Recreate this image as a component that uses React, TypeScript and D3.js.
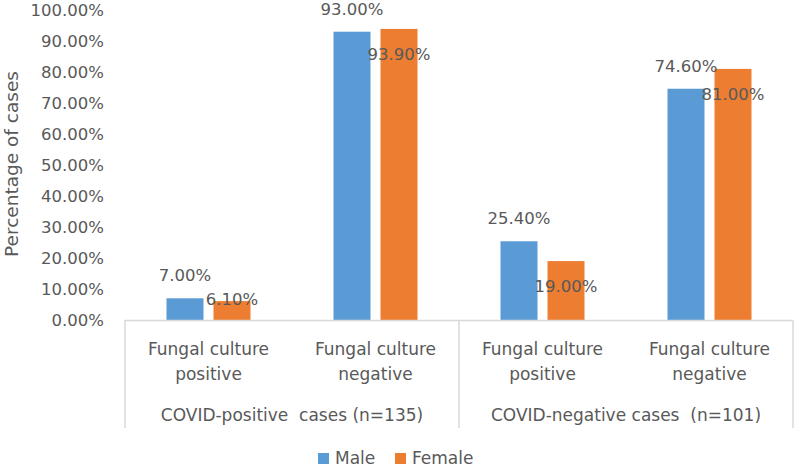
import React from "react";
import * as d3 from "d3";

const groups = ["COVID-positive  cases (n=135)", "COVID-negative cases  (n=101)"];
const categories = ["Fungal culture|positive", "Fungal culture|negative", "Fungal culture|positive", "Fungal culture|negative"];
const categoryGroup = [0, 0, 1, 1];
const seriesNames = ["Male", "Female"];
const maleValues = [7.0, 93.0, 25.4, 74.6];
const femaleValues = [6.1, 93.9, 19.0, 81.0];
const yTicks = [0, 10, 20, 30, 40, 50, 60, 70, 80, 90, 100];
const colors = ["#5B9BD5", "#ED7D31"];

const W = 795;
const H = 469;
const FONT = "'DejaVu Sans', sans-serif";
const TXT = "#595959";
const AXIS = "#D9D9D9";

export default function App() {
  const left = 125;
  const right = 793;
  const y0 = 320;
  const y = d3.scaleLinear().domain([0, 100]).range([y0, 10]);
  const catIdx = categories.map((_, i) => String(i));
  const x0 = d3.scaleBand().domain(catIdx).range([left, right]).padding(0);
  const x1 = d3.scaleBand().domain(seriesNames).range([0, 84]).paddingInner(10 / 47).paddingOuter(0);
  const off = (x0.bandwidth() - 84) / 2;
  const series = [maleValues, femaleValues];
  const fmt = (v: number) => v.toFixed(2) + "%";

  const groupBounds = groups.map((_, g) => {
    const idx = categoryGroup.map((gg, i) => (gg === g ? i : -1)).filter((i) => i >= 0);
    const a = x0(String(idx[0]))!;
    const b = x0(String(idx[idx.length - 1]))! + x0.bandwidth();
    return [a, b];
  });
  const separators = [left, ...groupBounds.map((b) => b[1])];

  return (
    <svg width={W} height={H} style={{ position: "absolute", left: 0, top: 0, background: "#fff" }}>
      <rect x={0} y={0} width={W} height={H} fill="#fff" />
      {yTicks.map((t) => (
        <text key={t} x={104} y={y(t)} dy="0.36em" textAnchor="end" fontFamily={FONT} fontSize={16.5} fill={TXT}>
          {t.toFixed(2) + "%"}
        </text>
      ))}
      <text
        transform={`translate(18,${164}) rotate(-90)`}
        textAnchor="middle"
        fontFamily={FONT}
        fontSize={18.5}
        fill={TXT}
      >
        Percentage of cases
      </text>
      {catIdx.map((c, i) =>
        seriesNames.map((s, si) => {
          const v = series[si][i];
          const bx = x0(c)! + off + x1(s)!;
          const top = y(v);
          return (
            <rect key={c + s} x={bx} y={top} width={x1.bandwidth()} height={y0 - top} fill={colors[si]} />
          );
        })
      )}
      {catIdx.map((c, i) =>
        seriesNames.map((s, si) => {
          const v = series[si][i];
          const cx = x0(c)! + off + x1(s)! + x1.bandwidth() / 2;
          const top = y(v);
          const by = si === 0 ? top - 17 : Math.min(top + 31, y0 - 15);
          return (
            <text key={"l" + c + s} x={cx} y={by} textAnchor="middle" fontFamily={FONT} fontSize={16.5} fill={TXT}>
              {fmt(v)}
            </text>
          );
        })
      )}
      <line x1={left} x2={right} y1={y0 + 0.5} y2={y0 + 0.5} stroke={AXIS} strokeWidth={1.5} />
      {separators.map((sx, i) => (
        <line key={"s" + i} x1={sx} x2={sx} y1={y0} y2={428} stroke={AXIS} strokeWidth={1.5} />
      ))}
      {catIdx.map((c, i) => {
        const lines = categories[i].split("|");
        const cx = x0(c)! + x0.bandwidth() / 2;
        return lines.map((ln, li) => (
          <text key={"c" + i + li} x={cx} y={355 + li * 25} textAnchor="middle" fontFamily={FONT} fontSize={17} fill={TXT}>
            {ln}
          </text>
        ));
      })}
      {groups.map((g, gi) => (
        <text
          key={"g" + gi}
          x={(groupBounds[gi][0] + groupBounds[gi][1]) / 2}
          y={421}
          textAnchor="middle"
          fontFamily={FONT}
          fontSize={17}
          fill={TXT}
          style={{ whiteSpace: "pre" }}
          xmlSpace="preserve"
        >
          {g}
        </text>
      ))}
      {seriesNames.map((s, si) => {
        const lx = si === 0 ? 318 : 395;
        return (
          <g key={"lg" + s}>
            <rect x={lx} y={453} width={11} height={11} fill={colors[si]} />
            <text x={lx + 17} y={464} fontFamily={FONT} fontSize={17} fill={TXT}>
              {s}
            </text>
          </g>
        );
      })}
    </svg>
  );
}
